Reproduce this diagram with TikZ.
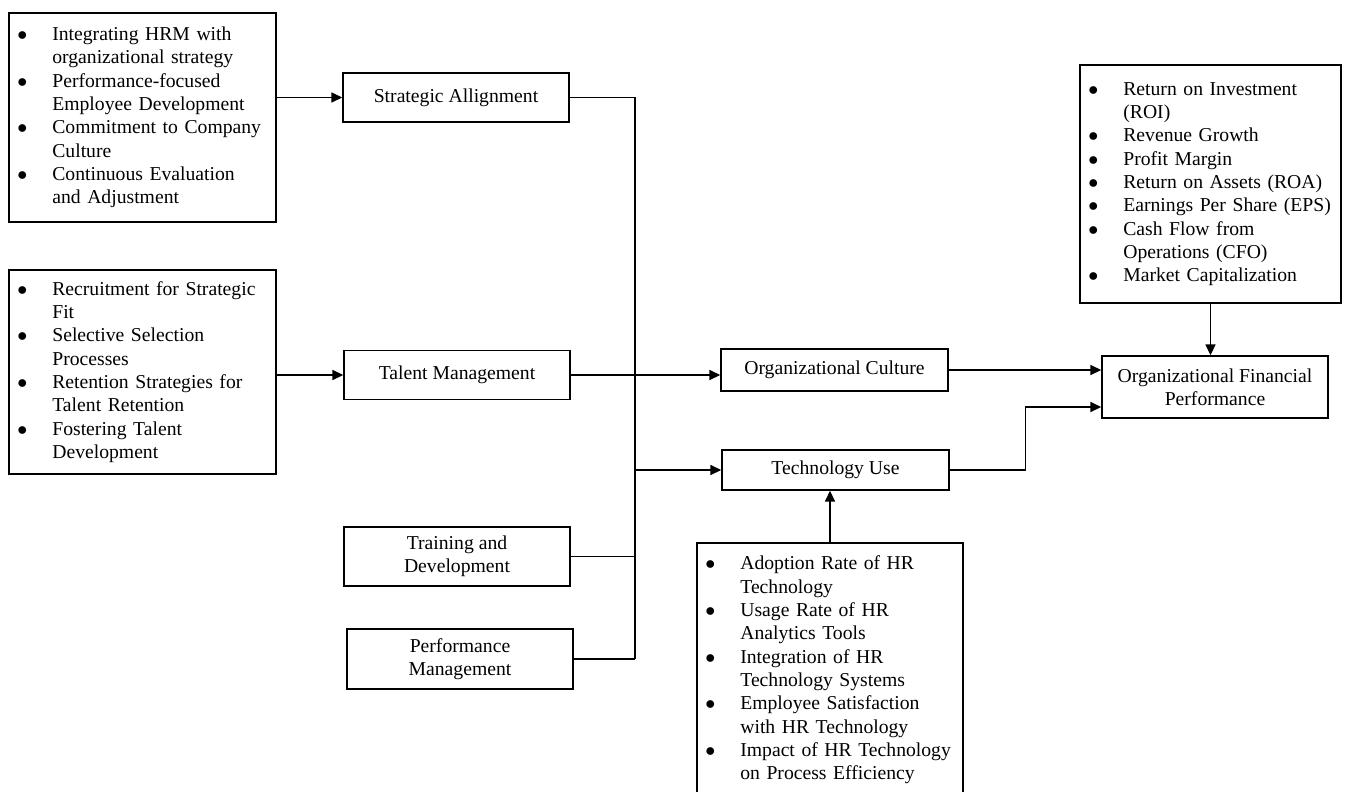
\documentclass[tikz,border=0pt]{standalone}
\usepackage{fontspec}
\setmainfont{Liberation Serif}
\usetikzlibrary{arrows.meta}

% bullet lines inside the list boxes
\newlength{\bw}\setlength{\bw}{22pt}
\newcommand{\bitem}{\makebox[\bw][l]{\hspace{1pt}$\bullet$}}
\newcommand{\bcont}{\hspace*{\bw}}

\begin{document}
\begin{tikzpicture}[x=0.6pt,y=-0.6pt,
  box/.style={draw, line width=0.9pt, inner xsep=4pt, inner ysep=2pt,
    font=\fontsize{11.8}{14}\selectfont},
  listbox/.style={box, align=left},
  unit/.style={box, align=center, minimum width=135.6pt, minimum height=29.4pt},
  line/.style={line width=0.75pt},
  arr/.style={line, -{Triangle[length=6.5pt,width=6pt]}}]

% Page (cut at the bottom edge as in the figure)
\useasboundingbox (0,0) rectangle (1347,792);
\clip (0,0) rectangle (1347,792);

% List boxes
\node[listbox, text width=152.2pt, minimum height=125.4pt] (alignList) at (142.5,117.5)
  {\bitem Integrating HRM with\\ \bcont organizational strategy\\
   \bitem Performance-focused\\ \bcont Employee Development\\
   \bitem Commitment to Company\\ \bcont Culture\\
   \bitem Continuous Evaluation\\ \bcont and Adjustment};
\node[listbox, text width=152.2pt, minimum height=122.4pt] (talentList) at (142.5,372)
  {\bitem Recruitment for Strategic\\ \bcont Fit\\
   \bitem Selective Selection\\ \bcont Processes\\
   \bitem Retention Strategies for\\ \bcont Talent Retention\\
   \bitem Fostering Talent\\ \bcont Development};
\node[listbox, text width=148.6pt, minimum height=142.8pt] (finList) at (1210.5,184)
  {\bitem Return on Investment\\ \bcont (ROI)\\
   \bitem Revenue Growth\\
   \bitem Profit Margin\\
   \bitem Return on Assets (ROA)\\
   \bitem Earnings Per Share (EPS)\\
   \bitem Cash Flow from\\ \bcont Operations (CFO)\\
   \bitem Market Capitalization};
\node[listbox, text width=151.6pt, minimum height=152.4pt] (techList) at (830,670)
  {\bitem Adoption Rate of HR\\ \bcont Technology\\
   \bitem Usage Rate of HR\\ \bcont Analytics Tools\\
   \bitem Integration of HR\\ \bcont Technology Systems\\
   \bitem Employee Satisfaction\\ \bcont with HR Technology\\
   \bitem Impact of HR Technology\\ \bcont on Process Efficiency};

% HRM practice boxes
\node[unit] (strat) at (456,97.5) {Strategic Allignment};
\node[unit] (talent) at (457,375) {Talent Management};
\node[unit, minimum height=35.4pt] (train) at (457,556.5) {Training and\\ Development};
\node[unit, minimum height=36pt] (perf) at (460,659) {Performance\\ Management};

% Mediators and outcome
\node[unit, minimum width=136.2pt, minimum height=25.2pt] (culture) at (834.5,370) {Organizational Culture};
\node[unit, minimum width=136.2pt, minimum height=24pt] (tech) at (835.5,470) {Technology Use};
\node[unit, minimum height=37.2pt] (finperf) at (1215,387) {Organizational Financial\\ Performance};

% Bus line
\coordinate (bus) at (635,0);

% Connectors
\draw[arr] (strat.west -| alignList.east) -- (strat.west);
\draw[arr] (talent.west -| talentList.east) -- (talent.west);
\draw[line] (strat.east) -- (strat.east -| bus) -- (perf.east -| bus);
\draw[line] (train.east) -- (train.east -| bus);
\draw[line] (perf.east) -- (perf.east -| bus);
\draw[arr] (talent.east) -- (talent.east -| culture.west);
\draw[arr] (tech.west -| bus) -- (tech.west);
\draw[arr] (techList.north) -- (techList.north |- tech.south);
\draw[arr] (culture.east) -- (culture.east -| finperf.west);
\draw[arr] (tech.east) -- ++(76,0) |- ([yshift=-12pt]finperf.west);
\draw[arr] (finList.south) -- (finList.south |- finperf.north);

\end{tikzpicture}
\end{document}
